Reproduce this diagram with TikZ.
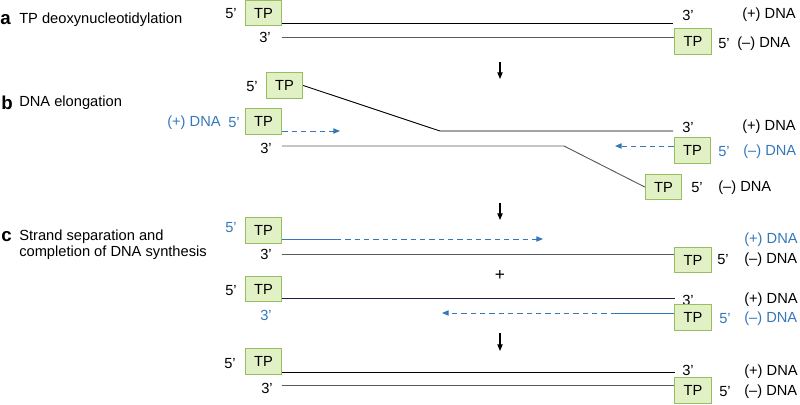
\documentclass[tikz,border=0pt]{standalone}
\usepackage{fontspec}
\setmainfont{Liberation Sans}
\usetikzlibrary{arrows.meta}
\definecolor{tpfill}{RGB}{226,240,198}
\definecolor{tpdraw}{RGB}{150,192,95}
\definecolor{dnablue}{RGB}{52,120,185}
\definecolor{strandgray}{RGB}{90,90,90}
\definecolor{strandnavy}{RGB}{30,30,70}
\begin{document}
\begin{tikzpicture}[x=0.75pt,y=-0.75pt,
  font=\fontsize{11}{13}\selectfont,
  tpbox/.style={draw=tpdraw, fill=tpfill, minimum width=27.5pt, minimum height=19pt, inner sep=0pt, line width=0.6pt},
  txt/.style={inner sep=0pt},
  rlbl/.style={inner sep=0pt, anchor=west},
  bluetxt/.style={inner sep=0pt, text=dnablue},
  strand/.style={line width=0.7pt, black},
  nstrand/.style={line width=0.7pt, strandnavy},
  gstrand/.style={line width=0.7pt, strandgray},
  bstrand/.style={line width=0.7pt, dnablue},
  newdna/.style={line width=0.7pt, dnablue, dash pattern=on 4pt off 3pt, -{Triangle[length=5pt,width=4pt]}},
  steparrow/.style={line width=0.8pt, black, -{Triangle[length=5pt,width=4pt]}},
  panel/.style={inner sep=0pt, anchor=west, font=\fontsize{14}{16}\selectfont\bfseries},
  ptext/.style={inner sep=0pt, anchor=west}
]
\path[use as bounding box] (0,0) rectangle (800,404);

% ---------------- panel a ----------------
\node[panel] (pa) at (0,20) {a};
\node[ptext] (pat) at (19,20) {TP deoxynucleotidylation};
\node[tpbox] (a1) at (263.5,13) {TP};
\node[txt] (a1f) at (231,14) {5’};
\node[txt] (a1t) at (688,15) {3’};
\node[rlbl] (a1d) at (742,15) {(+) DNA};
\coordinate (a1e) at (673,23);
\draw[strand] (a1.east |- a1e) -- (a1e);
\node[tpbox] (a2) at (693,41.5) {TP};
\node[txt] (a2t) at (265,37) {3’};
\node[txt] (a2f) at (724,44) {5’};
\node[rlbl] (a2d) at (737,44) {(–) DNA};
\coordinate (a2s) at (282,37);
\draw[gstrand] (a2s) -- (a2.west |- a2s);

\coordinate (ar1s) at (500,62);
\coordinate (ar1e) at (500,79);
\draw[steparrow] (ar1s) -- (ar1e);

% ---------------- panel b ----------------
\node[panel] (pb) at (1,103) {b};
\node[ptext] (pbt) at (19,103) {DNA elongation};
\node[tpbox] (b1) at (284.5,85.5) {TP};
\node[txt] (b1f) at (252,87) {5’};
\coordinate (b1k) at (440,131);
\coordinate (b1e) at (673,131);
\draw[strand] (b1.east) -- (b1k) -- (b1e);
\node[txt] (b1t) at (688,127) {3’};
\node[rlbl] (b1d) at (742,127) {(+) DNA};

\node[tpbox] (b2) at (263.5,121.5) {TP};
\node[bluetxt] (b2f) at (234,123) {5’};
\node[bluetxt, anchor=west] (b2d) at (167,123) {(+) DNA};
\coordinate (b2a) at (340,131);
\draw[newdna] (b2.east |- b2a) -- (b2a);

\node[txt] (b5t) at (266,148) {3’};
\coordinate (b5s) at (282,146);
\coordinate (b5k) at (564,146);
\node[tpbox] (b4) at (663.5,187) {TP};
\draw[gstrand] (b5s) -- (b5k) -- (b4.west);
\node[txt] (b4f) at (697,188) {5’};
\node[rlbl] (b4d) at (718,188) {(–) DNA};

\node[tpbox] (b3) at (692.5,150.5) {TP};
\coordinate (b3a) at (615,146);
\draw[newdna] (b3.west |- b3a) -- (b3a);
\node[bluetxt] (b3f) at (724,152) {5’};
\node[bluetxt, anchor=west] (b3d) at (743,152) {(–) DNA};

\coordinate (ar2s) at (500,203);
\coordinate (ar2e) at (500,220);
\draw[steparrow] (ar2s) -- (ar2e);

% ---------------- panel c ----------------
\node[panel] (pc) at (1,237) {c};
\node[ptext] (pct1) at (19,237) {Strand separation and};
\node[ptext] (pct2) at (19,253) {completion of DNA synthesis};

\node[tpbox] (c1) at (263.5,230.5) {TP};
\node[bluetxt] (c1f) at (231,228) {5’};
\coordinate (c1m) at (336,239);
\coordinate (c1a) at (543,239);
\draw[bstrand] (c1.east |- c1m) -- (c1m);
\draw[newdna] (c1m) -- (c1a);
\node[bluetxt, anchor=west] (c1d) at (744,240) {(+) DNA};

\node[txt] (c2t) at (266,254) {3’};
\coordinate (c2s) at (282,254);
\node[tpbox] (c2) at (693,260) {TP};
\draw[gstrand] (c2s) -- (c2.west |- c2s);
\node[txt] (c2f) at (723,260) {5’};
\node[rlbl] (c2d) at (744,260) {(–) DNA};

\node[txt, font=\fontsize{13}{15}\selectfont] (plus) at (500,275) {+};

\node[tpbox] (c3) at (263.5,289) {TP};
\node[txt] (c3f) at (231,291) {5’};
\coordinate (c3e) at (675,298);
\draw[nstrand] (c3.east |- c3e) -- (c3e);
\node[txt] (c3t) at (688,300) {3’};
\node[rlbl] (c3d) at (744,300) {(+) DNA};

\node[tpbox] (c4) at (693,317.5) {TP};
\node[bluetxt] (c4t) at (266,315) {3’};
\coordinate (c4m) at (616,313);
\coordinate (c4a) at (442,313);
\draw[bstrand] (c4.west |- c4m) -- (c4m);
\draw[newdna] (c4m) -- (c4a);
\node[bluetxt] (c4f) at (725,319) {5’};
\node[bluetxt, anchor=west] (c4d) at (744,319) {(–) DNA};

\coordinate (ar3s) at (500,333);
\coordinate (ar3e) at (500,351);
\draw[steparrow] (ar3s) -- (ar3e);

% ---------------- final duplex ----------------
\node[tpbox] (d1) at (263.5,361.5) {TP};
\node[txt] (d1f) at (230,364) {5’};
\coordinate (d1e) at (675,372);
\draw[strand] (d1.east |- d1e) -- (d1e);
\node[txt] (d1t) at (688,370) {3’};
\node[rlbl] (d1d) at (744,372) {(+) DNA};

\node[txt] (d2t) at (267,388) {3’};
\coordinate (d2s) at (282,385);
\node[tpbox] (d2) at (693,390.5) {TP};
\draw[gstrand] (d2s) -- (d2.west |- d2s);
\node[txt] (d2f) at (725,392) {5’};
\node[rlbl] (d2d) at (744,392) {(–) DNA};
\end{tikzpicture}
\end{document}
